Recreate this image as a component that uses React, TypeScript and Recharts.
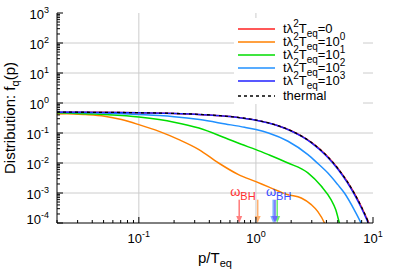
import { LineChart, Line, XAxis, YAxis, ReferenceLine, Legend } from 'recharts';

const FONT = 'Liberation Sans, Arial, sans-serif';

// axis ticks
const mantissas = [2, 3, 4, 5, 6, 7, 8, 9];
const xDecades = [0.01, 0.1, 1];
const yDecades = [1e-4, 1e-3, 1e-2, 1e-1, 1, 10, 100];
const xTicks = [...xDecades.flatMap((d) => [d, ...mantissas.map((m) => m * d)]).filter((v) => v >= 0.02), 10];
const yTicks = [...yDecades.flatMap((d) => [d, ...mantissas.map((m) => m * d)]), 1000];
const xGrid = [0.1, 1];
const yGrid = [1e-3, 1e-2, 1e-1, 1, 10, 100];

// t lambda^2 T_eq = 0 (initial, thermal)
const pRed = [0.02, 0.05, 0.1, 0.2, 0.3, 0.5, 0.7, 1, 1.5, 2, 2.5, 3, 4, 5, 6, 7, 8, 9, 10];
const fRed = [0.495, 0.4875, 0.475, 0.45, 0.4256, 0.3775, 0.3318, 0.2689, 0.1824, 0.1192, 0.0759, 0.0474, 0.018, 0.00669, 0.00247, 0.000911, 0.000335, 0.000123, 0.0000454];

// t lambda^2 T_eq = 10^0
const pOrange = [0.02, 0.024, 0.035, 0.051, 0.071, 0.1, 0.149, 0.22, 0.326, 0.48, 0.71, 1, 1.28, 1.88, 2.44, 2.97, 3.38, 3.85, 4.2];
const fOrange = [0.43, 0.44, 0.41, 0.36, 0.28, 0.19, 0.113, 0.06, 0.028, 0.01, 0.0041, 0.0024, 0.0016, 0.00088, 0.00068, 0.00041, 0.00024, 0.0001, 0.00004];

// t lambda^2 T_eq = 10^1
const pGreen = [0.02, 0.05, 0.1, 0.149, 0.2, 0.326, 0.55, 0.75, 1, 1.28, 1.88, 2.78, 3.61, 4.38, 4.8, 5.16, 5.6];
const fGreen = [0.47, 0.41, 0.34, 0.28, 0.23, 0.146, 0.068, 0.042, 0.028, 0.019, 0.01, 0.0047, 0.0017, 0.0006, 0.00028, 0.0001, 0.00003];

// t lambda^2 T_eq = 10^2
const pLightBlue = [0.02, 0.05, 0.1, 0.15, 0.2, 0.33, 0.55, 0.8, 1, 1.28, 1.88, 2.78, 3.3, 4.1, 5, 5.7, 6.9, 7.9, 9];
const fLightBlue = [0.49, 0.46, 0.41, 0.38, 0.35, 0.28, 0.2, 0.155, 0.13, 0.1, 0.053, 0.019, 0.0105, 0.0047, 0.0019, 0.001, 0.00028, 0.0001, 0.00003];

// t lambda^2 T_eq = 10^3
const pBlue = [0.02, 0.05, 0.1, 0.2, 0.3, 0.5, 0.7, 1, 1.5, 2, 2.5, 3, 4, 5, 6, 7, 8, 9, 10];
const fBlue = [0.493, 0.486, 0.474, 0.449, 0.425, 0.377, 0.331, 0.268, 0.181, 0.117, 0.074, 0.0458, 0.0171, 0.0063, 0.0023, 0.00084, 0.000305, 0.000111, 0.000041];

// thermal distribution
const pThermal = [0.02, 0.05, 0.1, 0.2, 0.3, 0.5, 0.7, 1, 1.5, 2, 2.5, 3, 4, 5, 6, 7, 8, 9, 10];
const fThermal = [0.495, 0.4875, 0.475, 0.45, 0.4256, 0.3775, 0.3318, 0.2689, 0.1824, 0.1192, 0.0759, 0.0474, 0.018, 0.00669, 0.00247, 0.000911, 0.000335, 0.000123, 0.0000454];

// omega_BH arrow positions (red, orange, green, light blue, blue)
const omegaBH = [0.72, 1.035, 1.52, 1.406, 1.454];
const arrowTop = 6e-4;
const arrowBottom = 1e-4;

const legendExp = ['', '0', '1', '2', '3'];
const colors = ['#ff2020', '#ff8000', '#00dd00', '#2090ff', '#2020ff'];
const arrowColors = ['#ff8080', '#ffb070', '#70ee70', '#80b4ff', '#6a6aff'];

const toRows = (p: number[], f: number[]) => p.map((x, i) => ({ p: x, f: f[i] }));
const curves = [
  toRows(pRed, fRed),
  toRows(pOrange, fOrange),
  toRows(pGreen, fGreen),
  toRows(pLightBlue, fLightBlue),
  toRows(pBlue, fBlue),
];
const thermal = toRows(pThermal, fThermal);

const isMajor = (v: number) => Math.abs(Math.log10(v) - Math.round(Math.log10(v))) < 1e-6;

function XTick({ x, y, payload }: any) {
  const v = payload.value;
  const major = isMajor(v);
  const e = Math.round(Math.log10(v));
  return (
    <g>
      <line x1={x} x2={x} y1={y} y2={y - (major ? 6 : 3)} stroke="#000" />
      {major && (
        <text x={x} y={y + 20} textAnchor="middle" fontSize={13} fontFamily={FONT} fill="#000">
          10<tspan dy={-6} fontSize={9}>{e}</tspan>
        </text>
      )}
    </g>
  );
}

function XTickTop({ x, y, payload }: any) {
  const major = isMajor(payload.value);
  return <line x1={x} x2={x} y1={y} y2={y + (major ? 6 : 3)} stroke="#000" />;
}

function YTick({ x, y, payload }: any) {
  const v = payload.value;
  const major = isMajor(v);
  const e = Math.round(Math.log10(v));
  const dy = e === -4 ? -5 : 0;
  return (
    <g>
      <line x1={x} x2={x + (major ? 6 : 3)} y1={y} y2={y} stroke="#000" />
      {major && (
        <text x={x - 8} y={y + 6 + dy} textAnchor="end" fontSize={13} fontFamily={FONT} fill="#000">
          10<tspan dy={-6} fontSize={9}>{e}</tspan>
        </text>
      )}
    </g>
  );
}

function YTickRight({ x, y, payload }: any) {
  const major = isMajor(payload.value);
  return <line x1={x} x2={x - (major ? 6 : 3)} y1={y} y2={y} stroke="#000" />;
}

function YTitle() {
  return (
    <text transform="translate(15,118) rotate(-90)" textAnchor="middle" fontSize={15} fontFamily={FONT} fill="#000">
      Distribution: f<tspan dy={4} fontSize={11}>q</tspan><tspan dy={-4}>(p)</tspan>
    </text>
  );
}

function XTitle() {
  return (
    <text x={215} y={263} textAnchor="middle" fontSize={15} fontFamily={FONT} fill="#000">
      p/T<tspan dy={4} fontSize={11}>eq</tspan>
    </text>
  );
}

function makeArrow(color: string, label?: string, labelColor?: string) {
  return (props: any) => {
    const { x1, y1, y2 } = props;
    return (
      <g>
        <line x1={x1} x2={x1} y1={y1} y2={y2 - 5} stroke={color} strokeWidth={1.6} />
        <polygon points={`${x1},${y2} ${x1 - 3},${y2 - 7} ${x1 + 3},${y2 - 7}`} fill={color} />
        {label && (
          <text x={x1 - 9} y={y1 - 4} fontSize={13} fontFamily={FONT} fill={labelColor}>
            ω<tspan dy={4} fontSize={11}>BH</tspan>
          </text>
        )}
      </g>
    );
  };
}

const sup = { fontSize: 10, position: 'relative' as const, top: -6 };
const sub = { fontSize: 10, position: 'relative' as const, top: 4 };

function LegendBox() {
  const rows = [...legendExp.map((e, i) => ({ e, i })), { e: 'thermal', i: 5 }];
  return (
    <div style={{ position: 'relative', width: 129, height: 86, background: '#fff', fontFamily: FONT, fontSize: 13, color: '#000' }}>
      {rows.map(({ e, i }) => {
        const cy = i < 5 ? 11.3 + 13 * i : 77.7;
        return (
          <div key={i} style={{ position: 'absolute', left: 0, top: cy - 8, height: 16, width: 129, lineHeight: '16px', whiteSpace: 'nowrap' }}>
            <svg width={42} height={16} style={{ position: 'absolute', left: 4, top: 0 }}>
              <line x1={0} x2={37} y1={8} y2={8} stroke={i < 5 ? colors[i] : '#000'} strokeWidth={i < 5 ? 1.5 : 1.3} strokeDasharray={i < 5 ? undefined : '3 3'} />
            </svg>
            <span style={{ position: 'absolute', left: 49, top: 0 }}>
              {i === 5 ? (
                'thermal'
              ) : (
                <>
                  tλ<span style={sup}>2</span>T<span style={sub}>eq</span>={e === '' ? '0' : <>10<span style={sup}>{e}</span></>}
                </>
              )}
            </span>
          </div>
        );
      })}
    </div>
  );
}

export default function App() {
  return (
    <div style={{ position: 'absolute', left: 0, top: 0, background: '#fff' }}>
      <LineChart width={399} height={279} margin={{ top: 13, right: 26, bottom: 0, left: 0 }}>
        <XAxis xAxisId="b" type="number" dataKey="p" scale="log" domain={[0.02, 10]} allowDataOverflow ticks={xTicks} interval={0}
          tick={<XTick />} tickLine={false} tickSize={0} tickMargin={0} height={56} stroke="#000" label={<XTitle />} />
        <XAxis xAxisId="t" orientation="top" type="number" dataKey="p" scale="log" domain={[0.02, 10]} allowDataOverflow ticks={xTicks} interval={0}
          tick={<XTickTop />} tickLine={false} tickSize={0} tickMargin={0} height={0} stroke="#000" />
        <YAxis yAxisId="l" type="number" dataKey="f" scale="log" domain={[1e-4, 1000]} allowDataOverflow ticks={yTicks} interval={0}
          tick={<YTick />} tickLine={false} tickSize={0} tickMargin={0} width={57} stroke="#000" label={<YTitle />} />
        <YAxis yAxisId="r" orientation="right" type="number" dataKey="f" scale="log" domain={[1e-4, 1000]} allowDataOverflow ticks={yTicks} interval={0}
          tick={<YTickRight />} tickLine={false} tickSize={0} tickMargin={0} width={0} stroke="#000" />

        {xGrid.map((v) => (
          <ReferenceLine key={'x' + v} xAxisId="b" yAxisId="l" x={v} stroke="#cccccc" />
        ))}
        {yGrid.map((v) => (
          <ReferenceLine key={'y' + v} xAxisId="b" yAxisId="l" y={v} stroke="#cccccc" />
        ))}

        <Legend layout="vertical" align="center" verticalAlign="middle" content={<LegendBox />}
          wrapperStyle={{ position: 'absolute', left: 234, top: 18, width: 129, height: 86 }} />

        {curves.map((d, i) => (
          <Line key={i} xAxisId="b" yAxisId="l" data={d} dataKey="f" type="monotone" dot={false}
            stroke={colors[i]} strokeWidth={1.5} isAnimationActive={false} />
        ))}
        <Line xAxisId="b" yAxisId="l" data={thermal} dataKey="f" type="monotone" dot={false}
          stroke="#000" strokeWidth={1.3} strokeDasharray="3 3" isAnimationActive={false} />

        {omegaBH.map((w, i) => (
          <ReferenceLine key={'a' + i} xAxisId="b" yAxisId="l" ifOverflow="visible"
            segment={[{ x: w, y: arrowTop }, { x: w, y: arrowBottom }]}
            shape={makeArrow(arrowColors[i], i === 0 || i === 4 ? 'w' : undefined, i === 0 ? '#ff3030' : '#3a4cff')} />
        ))}
      </LineChart>
    </div>
  );
}
